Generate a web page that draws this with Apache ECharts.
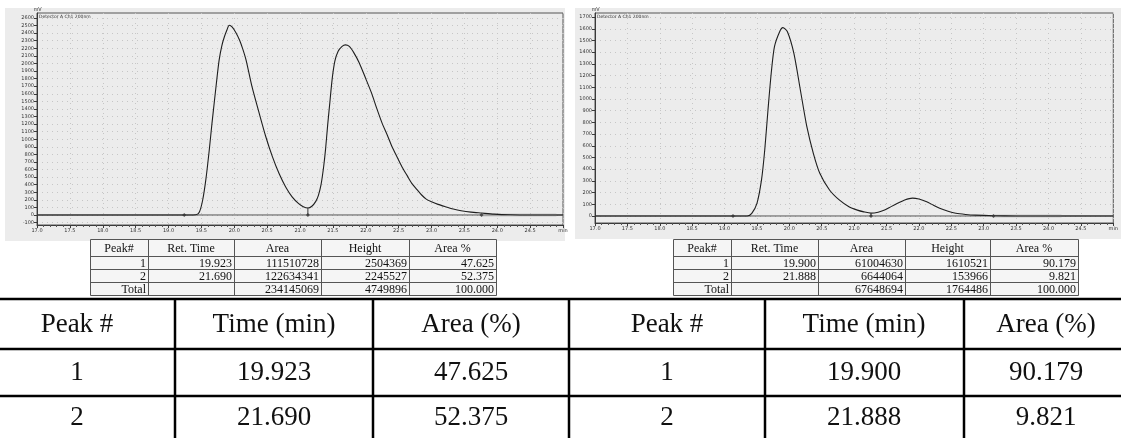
<!DOCTYPE html>
<html><head><meta charset="utf-8">
<script src="https://cdn.jsdelivr.net/npm/echarts@6/dist/echarts.min.js"></script>
<style>html,body{margin:0;padding:0;background:#fff;overflow:hidden}#c{width:1121px;height:438px}</style>
</head><body><div id="c"></div>
<script>
// ---------- data ----------
const xTickValues = [17.0,17.5,18.0,18.5,19.0,19.5,20.0,20.5,21.0,21.5,22.0,22.5,23.0,23.5,24.0,24.5,25.0];
const xTickLabels = ['17.0','17.5','18.0','18.5','19.0','19.5','20.0','20.5','21.0','21.5','22.0','22.5','23.0','23.5','24.0','24.5','min'];
const yTicksLeft = [-100,0,100,200,300,400,500,600,700,800,900,1000,1100,1200,1300,1400,1500,1600,1700,1800,1900,2000,2100,2200,2300,2400,2500,2600];
const yTicksRight = [0,100,200,300,400,500,600,700,800,900,1000,1100,1200,1300,1400,1500,1600,1700];
const detectorLabel = 'Detector A Ch1 200nm';
const unitLabel = 'mV';

// chromatogram 1 (time min, mV)
const leftTrace = [[17.0,0],[19.3,0],[19.42,3],[19.47,40],[19.52,198],[19.57,480],[19.62,858],[19.66,1200],[19.70,1517],[19.74,1830],[19.77,2045],[19.81,2230],[19.85,2352],[19.89,2445],[19.923,2504],[19.97,2480],[20.03,2400],[20.08,2309],[20.13,2190],[20.18,2045],[20.27,1693],[20.38,1341],[20.48,1033],[20.58,770],[20.68,550],[20.78,374],[20.88,240],[20.98,150],[21.05,110],[21.12,92],[21.18,115],[21.24,180],[21.28,260],[21.32,400],[21.36,640],[21.39,880],[21.42,1180],[21.45,1450],[21.49,1800],[21.53,2030],[21.58,2160],[21.64,2225],[21.69,2245],[21.75,2225],[21.82,2140],[21.9,2010],[22.0,1800],[22.09,1605],[22.17,1400],[22.25,1209],[22.33,1050],[22.4,902],[22.48,760],[22.55,638],[22.63,520],[22.7,418],[22.78,335],[22.85,264],[22.92,210],[23.0,176],[23.1,140],[23.21,110],[23.33,80],[23.45,57],[23.6,38],[23.76,26],[23.95,12],[24.2,3],[24.5,0],[25.0,0]];
const leftEvents = [19.24, 21.12, 23.76];
const leftValley = [[21.12,0],[21.12,92]];
const leftGreySeg = [[23.76,0],[24.9,0]];

// chromatogram 2
const rightTrace = [[17.0,0],[19.35,0],[19.42,23],[19.5,108],[19.57,308],[19.62,564],[19.67,906],[19.72,1220],[19.77,1447],[19.85,1575],[19.9,1610],[19.97,1575],[20.07,1390],[20.17,1077],[20.27,763],[20.37,536],[20.47,365],[20.62,222],[20.77,137],[20.92,79],[21.05,50],[21.15,35],[21.26,24],[21.37,32],[21.47,51],[21.57,80],[21.67,108],[21.78,137],[21.9,153],[22.0,145],[22.12,122],[22.22,93],[22.32,66],[22.45,40],[22.57,23],[22.72,13],[22.87,7],[23.15,2],[23.5,0],[25.0,0]];
const rightEvents = [19.13, 21.26, 23.15];
const rightValley = [[21.26,0],[21.26,24]];
const rightGreySeg = [[23.15,0],[24.2,0]];
const baseline = [[17.0,0],[25.0,0]];

// tables
const smallHeaders = ['Peak#','Ret. Time','Area','Height','Area %'];
const leftPeakRows = [['1','19.923','111510728','2504369','47.625'],['2','21.690','122634341','2245527','52.375'],['Total','','234145069','4749896','100.000']];
const rightPeakRows = [['1','19.900','61004630','1610521','90.179'],['2','21.888','6644064','153966','9.821'],['Total','','67648694','1764486','100.000']];
const bigHeaders = ['Peak #','Time (min)','Area (%)'];
const leftSummary = [['1','19.923','47.625'],['2','21.690','52.375']];
const rightSummary = [['1','19.900','90.179'],['2','21.888','9.821']];

// ---------- layout ----------
const chart = echarts.init(document.getElementById('c'), null, {renderer:'canvas'});
const AX = '#3a3a3a';
const GRIDLINE = {show:true, lineStyle:{color:'#c6c6c6', width:1, type:[1,4]}};

function xAxisFor(gi){
  return {gridIndex:gi, type:'value', min:17, max:25, interval:0.5,
    axisLine:{onZero:false, lineStyle:{color:AX, width:1}},
    axisTick:{show:true, length:3, lineStyle:{color:AX}},
    minorTick:{show:true, splitNumber:5, length:2, lineStyle:{color:'#555'}},
    axisLabel:{fontSize:5, color:'#333', margin:3, fontFamily:'DejaVu Sans', showMinLabel:true, showMaxLabel:true,
      formatter:(v)=>{const i = xTickValues.findIndex(t=>Math.abs(t-v)<1e-6); return i>=0?xTickLabels[i]:'';}},
    splitLine:GRIDLINE};
}
function yAxisFor(gi, min, max, ticks){
  return {gridIndex:gi, type:'value', min:min, max:max,
    axisLine:{show:true, onZero:false, lineStyle:{color:AX, width:1}},
    axisTick:{show:true, length:3, lineStyle:{color:AX}, customValues:ticks},
    axisLabel:{fontSize:5, color:'#333', margin:3, fontFamily:'DejaVu Sans', customValues:ticks, formatter:(v)=>String(Math.round(v))},
    splitLine:GRIDLINE,
    name:unitLabel, nameLocation:'end', nameGap:1, nameTextStyle:{fontSize:5, color:'#333', align:'left', padding:[0,0,0,-3]}};
}
function traceSeries(xi, data){
  return {type:'line', xAxisIndex:xi, yAxisIndex:xi, data:data, showSymbol:false, smooth:0.25,
    lineStyle:{color:'#1e1e1e', width:1.1}, z:5, animation:false};
}
function plainLine(xi, data, color, width, z){
  return {type:'line', xAxisIndex:xi, yAxisIndex:xi, data:data, showSymbol:false,
    lineStyle:{color:color, width:width}, z:z, animation:false};
}
function eventSeries(xi, times){
  return {type:'scatter', xAxisIndex:xi, yAxisIndex:xi, data:times.map(t=>[t,0]), symbol:'diamond', symbolSize:4,
    itemStyle:{color:'#333'}, z:6, animation:false};
}

// ---------- tables via graphic ----------
const FONT = 'Liberation Serif';
function smallTable(xs, ys, rows){
  const els = [];
  const W = xs[xs.length-1]-xs[0], H = ys[ys.length-1]-ys[0];
  els.push({type:'rect', shape:{x:xs[0]+0.5, y:ys[0]+0.5, width:W, height:H}, style:{fill:'#f5f5f5', stroke:'#555', lineWidth:1}});
  for(let i=1;i<xs.length-1;i++) els.push({type:'line', shape:{x1:xs[i]+0.5,y1:ys[0],x2:xs[i]+0.5,y2:ys[ys.length-1]}, style:{stroke:'#555', lineWidth:1}});
  for(let j=1;j<ys.length-1;j++) els.push({type:'line', shape:{x1:xs[0],y1:ys[j]+0.5,x2:xs[xs.length-1],y2:ys[j]+0.5}, style:{stroke:'#555', lineWidth:1}});
  smallHeaders.forEach((h,i)=>{
    els.push({type:'text', x:(xs[i]+xs[i+1])/2, y:(ys[0]+ys[1])/2+1, style:{text:h, font:'12px "'+FONT+'"', fill:'#111', align:'center', verticalAlign:'middle'}});
  });
  rows.forEach((r,j)=>{
    r.forEach((c,i)=>{
      if(!c) return;
      els.push({type:'text', x:xs[i+1]-2, y:(ys[j+1]+ys[j+2])/2+1, style:{text:c, font:'12px "'+FONT+'"', fill:'#111', align:'right', verticalAlign:'middle'}});
    });
  });
  return els;
}
function bigTable(){
  const els = [];
  const hy = [299, 349, 396];
  const vx = [175, 373, 569, 765, 964];
  hy.forEach(y=>els.push({type:'line', shape:{x1:0,y1:y,x2:1121,y2:y}, style:{stroke:'#000', lineWidth:2.5}}));
  vx.forEach(x=>els.push({type:'line', shape:{x1:x,y1:298,x2:x,y2:438}, style:{stroke:'#000', lineWidth:2.5}}));
  const leftCx = [77, 274, 471], rightCx = [667, 864, 1046];
  const rowCy = [325, 373, 418];
  const put = (txt, x, y)=>els.push({type:'text', x:x, y:y, style:{text:txt, font:'27px "'+FONT+'"', fill:'#111', align:'center', verticalAlign:'middle'}});
  bigHeaders.forEach((h,i)=>{put(h, leftCx[i], rowCy[0]); put(h, rightCx[i], rowCy[0]);});
  leftSummary.forEach((r,j)=>r.forEach((c,i)=>put(c, leftCx[i], rowCy[j+1])));
  rightSummary.forEach((r,j)=>r.forEach((c,i)=>put(c, rightCx[i], rowCy[j+1])));
  return els;
}

const rowsY = [239, 256, 269, 282, 295];
const graphics = [
  {type:'rect', shape:{x:5, y:8, width:560, height:233}, style:{fill:'#ececec'}, z:-10},
  {type:'rect', shape:{x:575, y:8, width:546, height:231}, style:{fill:'#ececec'}, z:-10},
  {type:'text', x:39, y:14, style:{text:detectorLabel, font:'4.5px "DejaVu Sans"', fill:'#333'}, z:10},
  {type:'text', x:597, y:14, style:{text:detectorLabel, font:'4.5px "DejaVu Sans"', fill:'#333'}, z:10},
  ...smallTable([90,148,234,321,409,496], rowsY, leftPeakRows),
  ...smallTable([673,731,818,905,990,1078], rowsY, rightPeakRows),
  ...bigTable()
];

chart.setOption({
  animation:false,
  backgroundColor:'#ffffff',
  grid:[
    {left:37, top:13, width:526, height:212, show:true, borderColor:'#555', borderWidth:1, backgroundColor:'transparent'},
    {left:595, top:13, width:534, height:210, show:true, borderColor:'#555', borderWidth:1, backgroundColor:'transparent'}
  ],
  xAxis:[xAxisFor(0), xAxisFor(1)],
  yAxis:[yAxisFor(0, -132, 2666, yTicksLeft), yAxisFor(1, -60, 1735, yTicksRight)],
  series:[
    plainLine(0, baseline, '#555', 1, 3),
    plainLine(0, leftGreySeg, '#a8a8a8', 2.5, 4),
    traceSeries(0, leftTrace),
    plainLine(0, leftValley, '#333', 1, 5),
    eventSeries(0, leftEvents),
    plainLine(1, baseline, '#555', 1, 3),
    plainLine(1, rightGreySeg, '#a8a8a8', 2.5, 4),
    traceSeries(1, rightTrace),
    plainLine(1, rightValley, '#333', 1, 5),
    eventSeries(1, rightEvents)
  ],
  graphic:graphics
});
</script>
</body></html>
